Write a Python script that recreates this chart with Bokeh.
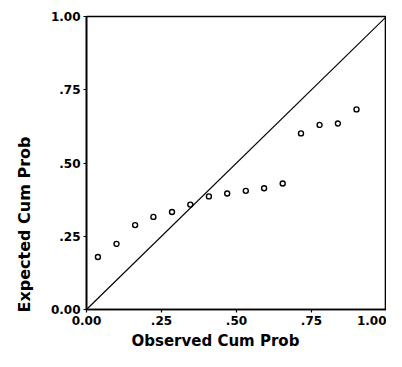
from bokeh.plotting import figure
from bokeh.models import Range1d, FixedTicker, Title
from bokeh.embed import file_html
from bokeh.resources import INLINE

# Data
observed_cum_prob = [0.038, 0.100, 0.162, 0.223, 0.285, 0.346, 0.408, 0.469,
                     0.531, 0.592, 0.654, 0.715, 0.777, 0.838, 0.900]
expected_cum_prob = [0.179, 0.224, 0.288, 0.316, 0.333, 0.358, 0.386, 0.396,
                     0.405, 0.414, 0.430, 0.601, 0.630, 0.635, 0.683]
reference_line = [0.0, 1.0]
tick_values = [0.0, 0.25, 0.5, 0.75, 1.0]
tick_labels = ["0.00", ".25", ".50", ".75", "1.00"]

FONT = "DejaVu Sans"

p = figure(width=386, height=351, output_backend="svg", toolbar_location=None,
           x_range=Range1d(0, 1), y_range=Range1d(0, 1),
           min_border_left=86, min_border_right=0, min_border_top=16,
           min_border_bottom=34)
p.background_fill_color = "white"
p.border_fill_color = "white"
p.outline_line_color = "black"
p.outline_line_width = 1.6
p.xgrid.visible = False
p.ygrid.visible = False

overrides = {v: s for v, s in zip(tick_values, tick_labels)}
for ax in (p.xaxis[0], p.yaxis[0]):
    ax.ticker = FixedTicker(ticks=tick_values)
    ax.major_label_overrides = overrides
    ax.axis_line_color = "black"
    ax.axis_line_width = 1.6
    ax.major_tick_line_color = "black"
    ax.major_tick_line_width = 1.2
    ax.major_tick_out = 3
    ax.major_tick_in = 0
    ax.minor_tick_line_color = None
    ax.major_label_text_font = FONT
    ax.major_label_text_font_style = "bold"
    ax.major_label_text_font_size = "12px"
    ax.major_label_text_color = "black"
    ax.major_label_standoff = 3

p.line(reference_line, reference_line, line_color="black", line_width=1.2)
p.scatter(observed_cum_prob, expected_cum_prob, marker="circle", size=5,
          fill_color=None, line_color="black", line_width=1.4)

p.add_layout(Title(text="Observed Cum Prob", align="left", offset=45,
                   standoff=4, text_font=FONT, text_font_size="15px",
                   text_font_style="bold", text_color="black"), "below")
p.add_layout(Title(text="Expected Cum Prob", align="left", offset=-3,
                   standoff=23, vertical_align="top", text_font=FONT,
                   text_font_size="16px", text_font_style="bold",
                   text_color="black"), "left")

open("out.html", "w").write(file_html(p, INLINE))
